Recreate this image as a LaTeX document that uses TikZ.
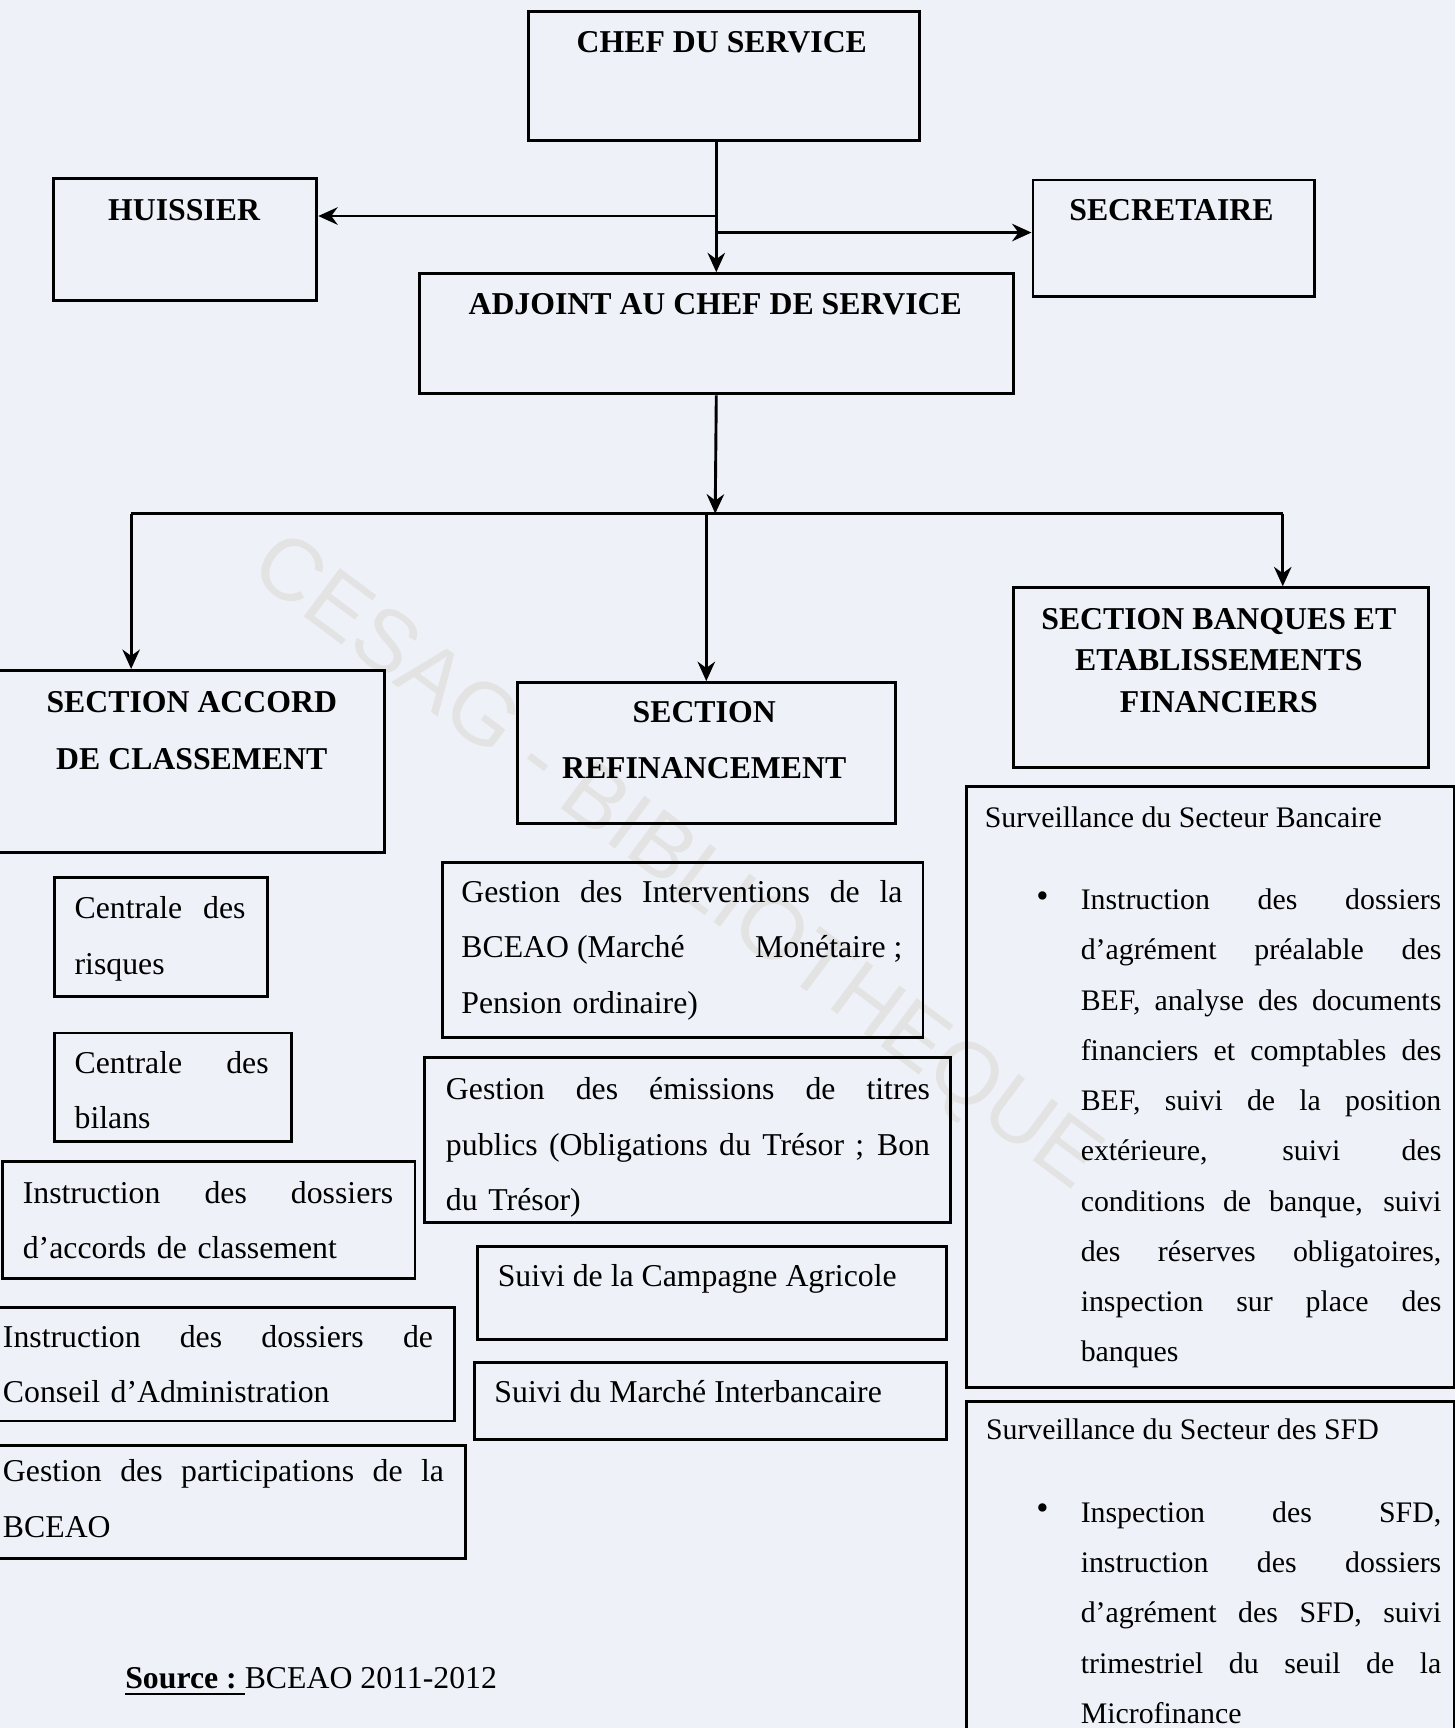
\documentclass[tikz,border=0pt]{standalone}
\usepackage{fontspec}
\setmainfont{Liberation Serif}
\newfontfamily\stampfont{Liberation Sans}
\usetikzlibrary{arrows.meta,positioning}
\definecolor{paper}{RGB}{238,242,248}

\begin{document}
\begin{tikzpicture}[x=0.01cm,y=-0.01cm]
      \newcommand{\headfont}[0]{\fontsize{8.2}{14.5}\selectfont\bfseries}
      \newcommand{\bodyfont}[0]{\fontsize{8.2}{14.3}\selectfont}
      \newcommand{\sidefont}[0]{\fontsize{7.7}{12.96}\selectfont}
      \newcommand{\jl}[1]{\makebox[\hsize][s]{\spaceskip=0.25em plus 1fil\relax#1}}

      \tikzstyle{box}=[
        rectangle,
        draw=black,
        line width=0.75pt,
        anchor=north west,
        inner sep=0pt,
      ]
      \tikzstyle{head}=[
        anchor=north,
        align=center,
        inner sep=0pt,
        font=\headfont,
      ]
      \tikzstyle{body}=[
        anchor=north west,
        align=left,
        inner sep=0pt,
        font=\bodyfont,
      ]
      \tikzstyle{side}=[
        body,
        font=\sidefont,
      ]
      \tikzstyle{link}=[
        line width=0.75pt,
        draw=black,
      ]
      \tikzstyle{flow}=[
        link,
        -{Stealth[length=5pt,width=4.5pt]},
      ]
      \tikzstyle{stamp}=[
        inner sep=0pt,
        text=black!11,
        font=\stampfont\fontsize{22.6}{22.6}\selectfont,
      ]

      % page
      \fill[paper] (0,0) rectangle (1320,1568);
      \useasboundingbox (0,0) rectangle (1320,1568);
      \node[stamp, rotate=-36.7] (wm) at (612,785) {CESAG - BIBLIOTHEQUE};

      % top layer
      {
        \node[box, minimum width=3.55cm, minimum height=1.17cm] (chef) at (478,9) {};
        \node[box, minimum width=2.39cm, minimum height=1.10cm] (huissier) at (47,161) {};
        \node[box, minimum width=2.55cm, minimum height=1.06cm] (secretaire) at (936,162) {};
        \node[box, minimum width=5.39cm, minimum height=1.09cm] (adjoint) at (379,247) {};

        \node[head] (chefT) at (655,28) {CHEF DU SERVICE};
        \node[head] (huissierT) at (167,180) {HUISSIER};
        \node[head] (secretaireT) at (1063,180) {SECRETAIRE};
        \node[head] (adjointT) at (649,266) {ADJOINT AU CHEF DE SERVICE};

        \coordinate (hj) at (649,196);
        \coordinate (sj) at (649,211);

        \draw[flow] (adjoint.north |- chef.south) -- (adjoint.north);
        \draw[flow] (hj) -- (hj -| huissier.east);
        \draw[flow] (sj) -- (sj -| secretaire.west);
      }

      % sections
      {
        \node[box, minimum width=3.50cm, minimum height=1.65cm] (accord) at (-3,607) {};
        \node[box, minimum width=3.43cm, minimum height=1.28cm] (refin) at (468,618) {};
        \node[box, minimum width=3.77cm, minimum height=1.63cm] (banques) at (918,532) {};

        \node[head] (accordT) at (174,627) {SECTION ACCORD\\DE CLASSEMENT};
        \node[head] (refinT) at (639,636) {SECTION\\REFINANCEMENT};
        \node[head, font=\fontsize{8.2}{10.8}\selectfont\bfseries] (banquesT)
          at (1106,551) {SECTION BANQUES ET\\ETABLISSEMENTS\\FINANCIERS};

        \coordinate (split) at (649,466);
        \coordinate (ta) at (119,466);
        \coordinate (tc) at (1164,466);

        \draw[flow] (adjoint.south) -- (split);
        \draw[link] (ta) -- (tc);
        \draw[flow] (ta) -- (ta |- accord.north);
        \draw[flow] (refin.north |- split) -- (refin.north);
        \draw[flow] (tc) -- (tc |- banques.north);
      }

      % left column
      {
        \node[box, minimum width=1.93cm, minimum height=1.08cm] (risques) at (48,795) {};
        \node[box, minimum width=2.15cm, minimum height=0.98cm] (bilans) at (48,936) {};
        \node[box, minimum width=3.74cm, minimum height=1.06cm] (accords) at (1,1053) {};
        \node[box, minimum width=4.16cm, minimum height=1.03cm] (conseil) at (-5,1185) {};
        \node[box, minimum width=4.26cm, minimum height=1.03cm] (particip) at (-5,1310) {};

        \node[body, text width=1.55cm] (risquesT) at (67,813) {\jl{Centrale des}\\risques};
        \node[body, text width=1.76cm] (bilansT) at (67,953) {\jl{Centrale des}\\bilans};
        \node[body, text width=3.36cm] (accordsT) at (20,1071)
          {\jl{Instruction des dossiers}\\d'accords de classement};
        \node[body, text width=3.90cm] (conseilT) at (2,1202)
          {\jl{Instruction des dossiers de}\\Conseil d'Administration};
        \node[body, text width=4.00cm] (participT) at (2,1324)
          {\jl{Gestion des participations de la}\\BCEAO};
      }

      % middle column
      {
        \node[box, minimum width=4.36cm, minimum height=1.59cm] (interv) at (400,781) {};
        \node[box, minimum width=4.77cm, minimum height=1.50cm] (emiss) at (384,958) {};
        \node[box, minimum width=4.25cm, minimum height=0.84cm] (agri) at (432,1130) {};
        \node[box, minimum width=4.28cm, minimum height=0.70cm] (interb) at (429,1235) {};

        \node[body, text width=4.00cm] (intervT) at (418,798)
          {\jl{Gestion des Interventions de la}\\
           \jl{BCEAO (Marché\hfill Monétaire ;}\\
           Pension ordinaire)};
        \node[body, text width=4.39cm] (emissT) at (404,977)
          {\jl{Gestion des émissions de titres}\\
           \jl{publics (Obligations du Trésor ; Bon}\\
           du Trésor)};
        \node[body] (agriT) at (451,1147) {Suivi de la Campagne Agricole};
        \node[body] (interbT) at (448,1252) {Suivi du Marché Interbancaire};
      }

      % right column
      {
        \node[box, minimum width=4.42cm, minimum height=5.45cm] (bancaire) at (876,712) {};
        \node[box, minimum width=4.42cm, minimum height=3.10cm] (sfd) at (876,1270) {};

        \node[side] (bancaireH) at (893,731) {Surveillance du Secteur Bancaire};
        \node[side, anchor=center, font=\fontsize{9}{9}\selectfont] (bulA) at (946,816) {•};
        \node[side, text width=3.27cm] (bancaireT) at (980,806)
          {\jl{Instruction des dossiers}\\
           \jl{d'agrément préalable des}\\
           \jl{BEF, analyse des documents}\\
           \jl{financiers et comptables des}\\
           \jl{BEF, suivi de la position}\\
           \jl{extérieure, suivi des}\\
           \jl{conditions de banque, suivi}\\
           \jl{des réserves obligatoires,}\\
           \jl{inspection sur place des}\\
           banques};

        \node[side] (sfdH) at (894,1287) {Surveillance du Secteur des SFD};
        \node[side, anchor=center, font=\fontsize{9}{9}\selectfont] (bulB) at (946,1372) {•};
        \node[side, text width=3.27cm] (sfdT) at (980,1362)
          {\jl{Inspection des SFD,}\\
           \jl{instruction des dossiers}\\
           \jl{d'agrément des SFD, suivi}\\
           \jl{trimestriel du seuil de la}\\
           Microfinance};
      }

      % source
      \node[body] (source) at (113,1512) {\underline{\textbf{Source :\ }}BCEAO 2011-2012};
\end{tikzpicture}
\end{document}
